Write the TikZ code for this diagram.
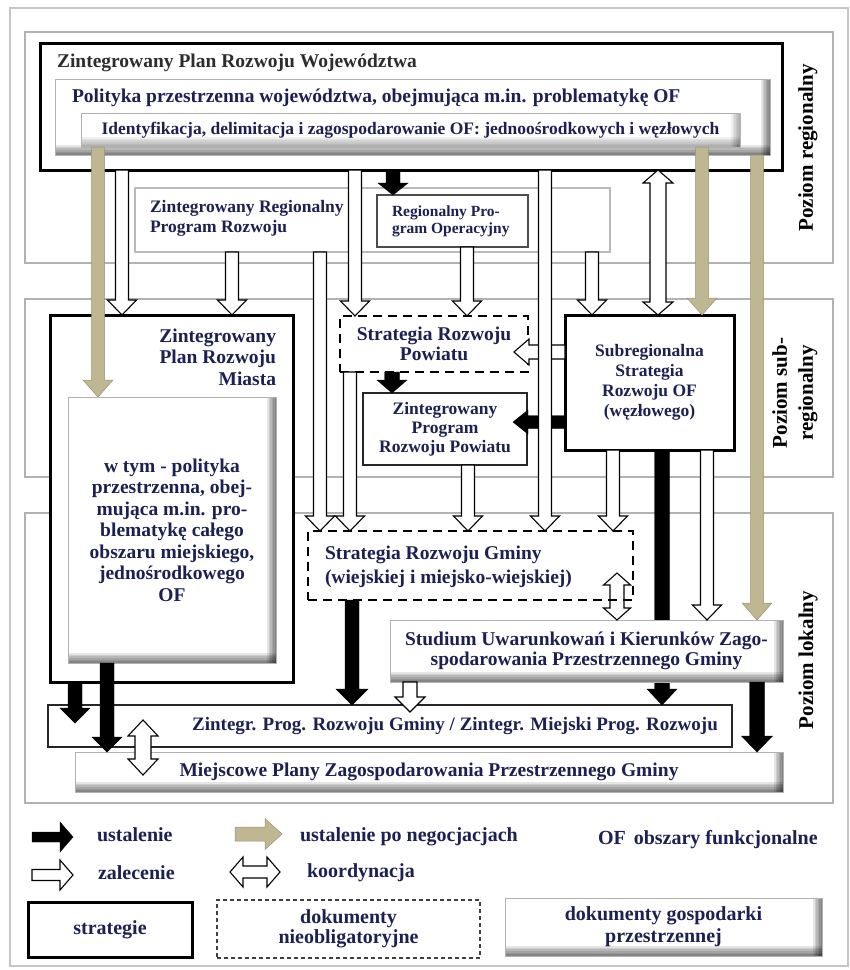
\documentclass[tikz,border=0pt]{standalone}
\usepackage{fontspec}
\setmainfont{Liberation Serif}
\usetikzlibrary{calc}
\definecolor{navy}{RGB}{28,32,82}
\definecolor{olivec}{RGB}{190,183,146}
\definecolor{titlegray}{RGB}{45,45,45}
\newcommand\fz[2]{\fontsize{#1}{#2}\selectfont\bfseries}
\tikzset{
  band/.style={draw=gray!60, line width=1.4pt},
  strat/.style={draw=black, line width=3pt, fill=white},
  thinbox/.style={draw=black!85, line width=1.1pt, fill=white},
  grbox/.style={draw=gray!55, line width=1.3pt, fill=white},
  innershade/.style={path picture={
    \foreach \k in {1,...,6}{
      \fill[black, opacity=#1] ($(path picture bounding box.south west)+(0pt,{1.7pt*\k})$) rectangle (path picture bounding box.south east);
      \fill[black, opacity=#1] ($(path picture bounding box.north east)+({-1.5pt*\k},0pt)$) rectangle (path picture bounding box.south east);
    }
  }},
  shbox/.style={draw=gray!60, line width=1pt, fill=white, innershade=0.1},
  shboxl/.style={draw=gray!60, line width=1pt, fill=white, innershade=0.06},
  dbox/.style={draw=black, line width=2.6pt, dash pattern=on 9pt off 6pt, fill=white},
  lbl/.style={text=navy, font=\fz{19.5}{21.5}},
  rot/.style={rotate=90, text=black, font=\fz{21}{26}, align=center},
  wa/.style={draw=black, line width=1.1pt, fill=white, line join=miter},
  ba/.style={draw=black, line width=.4pt, fill=black},
  oa/.style={draw=olivec!80!black, line width=.5pt, fill=olivec},
  asz/.code args={#1/#2/#3}{\def\arS{#1}\def\arH{#2}\def\arL{#3}},
  varr/.style={to path={let \p1=(\tikztostart), \p2=(\tikztotarget), \n1={sign(\y2-\y1)} in
    ({\x1-\arS},\y1) -- ({\x1-\arS},{\y2-(\n1)*\arL}) -- ({\x1-\arH},{\y2-(\n1)*\arL}) -- (\x1,\y2) -- ({\x1+\arH},{\y2-(\n1)*\arL}) -- ({\x1+\arS},{\y2-(\n1)*\arL}) -- ({\x1+\arS},\y1) -- cycle}},
  harr/.style={to path={let \p1=(\tikztostart), \p2=(\tikztotarget), \n1={sign(\x2-\x1)} in
    (\x1,{\y1-\arS}) -- ({\x2-(\n1)*\arL},{\y1-\arS}) -- ({\x2-(\n1)*\arL},{\y1-\arH}) -- (\x2,\y1) -- ({\x2-(\n1)*\arL},{\y1+\arH}) -- ({\x2-(\n1)*\arL},{\y1+\arS}) -- (\x1,{\y1+\arS}) -- cycle}},
  vcarr/.style={to path={let \p1=(\tikztostart), \p2=(\tikztotarget), \n1={sign(\y2-\y1)} in
    (\x1,\y1) -- ({\x1+\arH},{\y1+(\n1)*\arL}) -- ({\x1+\arS},{\y1+(\n1)*\arL}) -- ({\x1+\arS},{\y2-(\n1)*\arL}) -- ({\x1+\arH},{\y2-(\n1)*\arL}) -- (\x1,\y2) -- ({\x1-\arH},{\y2-(\n1)*\arL}) -- ({\x1-\arS},{\y2-(\n1)*\arL}) -- ({\x1-\arS},{\y1+(\n1)*\arL}) -- ({\x1-\arH},{\y1+(\n1)*\arL}) -- cycle}},
  hcarr/.style={to path={let \p1=(\tikztostart), \p2=(\tikztotarget), \n1={sign(\x2-\x1)} in
    (\x1,\y1) -- ({\x1+(\n1)*\arL},{\y1+\arH}) -- ({\x1+(\n1)*\arL},{\y1+\arS}) -- ({\x2-(\n1)*\arL},{\y1+\arS}) -- ({\x2-(\n1)*\arL},{\y1+\arH}) -- (\x2,\y1) -- ({\x2-(\n1)*\arL},{\y1-\arH}) -- ({\x2-(\n1)*\arL},{\y1-\arS}) -- ({\x1+(\n1)*\arL},{\y1-\arS}) -- ({\x1+(\n1)*\arL},{\y1-\arH}) -- cycle}},
}
\begin{document}
\begin{tikzpicture}[x=1pt,y=-1pt, every node/.style={inner sep=0pt,outer sep=0pt}]
\useasboundingbox (0,0) rectangle (850,970);
\fill[white] (0,0) rectangle (850,970);

% frame and level bands
\node[band, draw=gray!45, anchor=north west, minimum width=838pt, minimum height=958pt] (frame) at (10,8) {};
\node[band, anchor=north west, minimum width=808pt, minimum height=231pt] (REG) at (25,32) {};
\node[band, anchor=north west, minimum width=808pt, minimum height=178pt] (SUB) at (25,299) {};
\node[band, anchor=north west, minimum width=808pt, minimum height=290pt] (LOC) at (25,513) {};
\node[rot] (lREG) at (808,148) {Poziom regionalny};
\node[rot] (lSUB) at (795,393) {Poziom sub-\\regionalny};
\node[rot] (lLOC) at (808,660) {Poziom lokalny};

% regional level
\node[strat, anchor=north west, minimum width=742pt, minimum height=127pt] (ZPRW) at (40,43) {};
\node[lbl, text=titlegray, anchor=west] (tZPRW) at (57,63) {Zintegrowany Plan Rozwoju Województwa};
\node[shbox, anchor=north west, minimum width=715pt, minimum height=76pt] (POL) at (55,79) {};
\node[lbl, anchor=west] (tPOL) at (72,98) {Polityka przestrzenna województwa, obejmująca m.in. problematykę OF};
\node[shboxl, anchor=north west, minimum width=659pt, minimum height=34pt, text=navy, font=\fz{17.5}{19}] (IDE) at (81,113) {Identyfikacja, delimitacja i zagospodarowanie OF: jednoośrodkowych i węzłowych};
\node[grbox, anchor=north west, minimum width=475pt, minimum height=64pt] (ZRPR) at (135,188) {};
\node[lbl, anchor=west, align=left, font=\fz{17.5}{20}] (tZRPR) at (150,218) {Zintegrowany Regionalny\\Program Rozwoju};
\node[draw=black!70, line width=1.2pt, fill=white, anchor=north west, minimum width=151pt, minimum height=52pt] (RPO) at (377,195) {};
\node[lbl, anchor=west, align=left, font=\fz{15.5}{17}] (tRPO) at (392,221) {Regionalny Pro-\\gram Operacyjny};

% sub-regional level
\node[strat, anchor=north west, minimum width=243pt, minimum height=367pt] (ZPRM) at (50,315) {};
\node[lbl, anchor=east, align=right] (tZPRM) at (276,357) {Zintegrowany\\Plan Rozwoju\\Miasta};
\node[shbox, anchor=north west, minimum width=208pt, minimum height=266pt, align=center, text=navy, font=\fz{19.5}{21.5}] (WTYM) at (68,397) {w tym - polityka\\przestrzenna, obej-\\mująca m.in. pro-\\blematykę całego\\obszaru miejskiego,\\jednośrodkowego\\OF};
\node[dbox, anchor=north west, minimum width=188pt, minimum height=56pt, align=center, text=navy, font=\fz{19.5}{20}] (SRP) at (340,316) {Strategia Rozwoju\\Powiatu};
\node[thinbox, anchor=north west, minimum width=164pt, minimum height=72pt, align=center, text=navy, font=\fz{17.5}{19}] (ZPRP) at (363,393) {Zintegrowany\\Program\\Rozwoju Powiatu};
\node[strat, anchor=north west, minimum width=169pt, minimum height=135pt, align=center, text=navy, font=\fz{17.5}{20}] (SSR) at (565,315) {Subregionalna\\Strategia\\Rozwoju OF\\(węzłowego)};

% local level
\node[dbox, anchor=north west, minimum width=325pt, minimum height=69pt] (SRG) at (308,531) {};
\node[lbl, anchor=west, align=left, font=\fz{19.5}{24}] (tSRG) at (325,567) {Strategia Rozwoju Gminy\\(wiejskiej i miejsko-wiejskiej)};
\node[thinbox, anchor=north west, minimum width=684pt, minimum height=42pt] (ZPRG) at (48,705) {};
\node[lbl, font=\fz{19}{21}] (tZPRG) at (455,726) {Zintegr. Prog. Rozwoju Gminy / Zintegr. Miejski Prog. Rozwoju};
\node[shbox, anchor=north west, minimum width=708pt, minimum height=40pt, text=navy, font=\fz{19.5}{21}] (MPZP) at (75,752) {Miejscowe Plany Zagospodarowania Przestrzennego Gminy};

% black arrow passing behind the Studium box
\draw[ba, asz={7.5pt/15pt/16pt}, varr] (SSR.south -| 662,0) to (ZPRG.north -| 662,0);
\node[shbox, anchor=north west, minimum width=393pt, minimum height=62pt, align=center, text=navy, font=\fz{19.5}{20}] (STU) at (390,620) {Studium Uwarunkowań i Kierunków Zago-\\spodarowania Przestrzennego Gminy};

% horizontal arrows from the subregional strategy
\draw[wa, asz={7pt/13pt/15pt}, harr] (SSR.west |- 0,352) to ($(SRP.east |- 0,352)+(-14,0)$);
\draw[ba, asz={6.5pt/12pt/15pt}, harr] (SSR.west |- 0,422) to ($(ZPRP.east |- 0,422)+(-14,0)$);

% recommendations (white)
\draw[wa, asz={6.5pt/14.5pt/15pt}, varr] (ZPRW.south -| 122,0) to (ZPRM.north -| 122,0);
\draw[wa, asz={6.5pt/14.5pt/15pt}, varr] (ZRPR.south -| 232,0) to (ZPRM.north -| 232,0);
\draw[wa, asz={6.5pt/14.5pt/15pt}, varr] (ZRPR.south -| 320,0) to (SRG.north -| 320,0);
\draw[wa, asz={6.5pt/14.5pt/15pt}, varr] (ZPRW.south -| 355,0) to (SRP.north -| 355,0);
\draw[wa, asz={6.5pt/14.5pt/15pt}, varr] (SRP.south -| 350,0) to (SRG.north -| 350,0);
\draw[wa, asz={6.5pt/14.5pt/15pt}, varr] (RPO.south -| 467,0) to (SRP.north -| 467,0);
\draw[wa, asz={6.5pt/14.5pt/15pt}, varr] (ZPRW.south -| 545,0) to (SRG.north -| 545,0);
\draw[wa, asz={6.5pt/14.5pt/15pt}, varr] (ZRPR.south -| 592,0) to (SSR.north -| 592,0);
\draw[wa, asz={6.5pt/14.5pt/15pt}, varr] (ZPRP.south -| 468,0) to (SRG.north -| 468,0);
\draw[wa, asz={6.5pt/14.5pt/15pt}, varr] (SSR.south -| 613,0) to (SRG.north -| 613,0);
\draw[wa, asz={6.5pt/14.5pt/15pt}, varr] (SSR.south -| 707,0) to (STU.north -| 707,0);
\draw[wa, asz={7pt/15pt/15pt}, varr] (STU.south -| 410,0) to ($(ZPRG.north -| 410,0)+(0,7)$);

% decisions (black)
\draw[ba, asz={7pt/15pt/12pt}, varr] (ZPRW.south -| 393,0) to (RPO.north -| 393,0);
\draw[ba, asz={7.5pt/15pt/13pt}, varr] (SRP.south -| 392,0) to (ZPRP.north -| 392,0);
\draw[ba, asz={7pt/16pt/16pt}, varr] (SRG.south -| 352,0) to (ZPRG.north -| 352,0);
\draw[ba, asz={7.5pt/15.5pt/16pt}, varr] (STU.south -| 757,0) to (MPZP.north -| 757,0);
\draw[ba, asz={7pt/15pt/15pt}, varr] (ZPRM.south -| 75,0) to ($(ZPRG.north -| 75,0)+(0,18)$);
\draw[ba, asz={7pt/15pt/15pt}, varr] (WTYM.south -| 107,0) to (MPZP.north -| 107,0);

% decisions after negotiation (olive)
\draw[oa, asz={6.5pt/15pt/17pt}, varr] (IDE.south -| 98,0) to (WTYM.north -| 98,0);
\draw[oa, asz={6.5pt/15pt/17pt}, varr] (IDE.south -| 702,0) to (SSR.north -| 702,0);
\draw[oa, asz={6.5pt/15pt/17pt}, varr] (POL.south -| 757,0) to (STU.north -| 757,0);

% coordination
\draw[wa, asz={8pt/15pt/13pt}, vcarr] (ZPRW.south -| 658,0) to (SSR.north -| 658,0);
\draw[wa, fill=none, asz={7pt/13.5pt/12pt}, vcarr] ($(SRG.south -| 617,0)+(0,-27)$) to (STU.north -| 617,0);
\draw[wa, asz={8pt/15pt/16pt}, vcarr] ($(ZPRG.north -| 143,0)+(0,15)$) to ($(MPZP.south -| 143,0)+(0,-17)$);

% legend
\coordinate (lb1) at (32,837); \coordinate (lb2) at (73,837);
\coordinate (lo1) at (235,834); \coordinate (lo2) at (282,834);
\coordinate (lw1) at (32,875); \coordinate (lw2) at (73,875);
\coordinate (lc1) at (230,872); \coordinate (lc2) at (280,872);
\draw[ba, asz={5pt/15pt/13pt}, harr] (lb1) to (lb2);
\draw[oa, asz={7pt/15.5pt/17pt}, harr] (lo1) to (lo2);
\draw[wa, asz={5.5pt/15pt/13pt}, harr] (lw1) to (lw2);
\draw[wa, asz={6pt/15pt/13pt}, hcarr] (lc1) to (lc2);
\node[lbl, font=\fz{20}{22}, anchor=west] (tl1) at (97,835) {ustalenie};
\node[lbl, font=\fz{20}{22}, anchor=west] (tl2) at (300,837) {ustalenie po negocjacjach};
\node[lbl, font=\fz{20}{22}, anchor=west] (tl3) at (598,840) {OF\hspace{8pt}obszary funkcjonalne};
\node[lbl, font=\fz{20}{22}, anchor=west] (tl4) at (98,873) {zalecenie};
\node[lbl, font=\fz{20}{22}, anchor=west] (tl5) at (307,873) {koordynacja};
\node[strat, anchor=north west, minimum width=164pt, minimum height=55pt, text=navy, font=\fz{20}{22}] (LS) at (28,902) {strategie};
\node[draw=black!75, line width=1.3pt, dash pattern=on 4pt off 3pt, anchor=north west, minimum width=263pt, minimum height=58pt, align=center, text=navy, font=\fz{20}{20}] (LD) at (217,900) {dokumenty\\nieobligatoryjne};
\node[shbox, anchor=north west, minimum width=317pt, minimum height=58pt, align=center, text=navy, font=\fz{20}{22}] (LG) at (505,898) {dokumenty gospodarki\\przestrzennej};
\end{tikzpicture}
\end{document}
